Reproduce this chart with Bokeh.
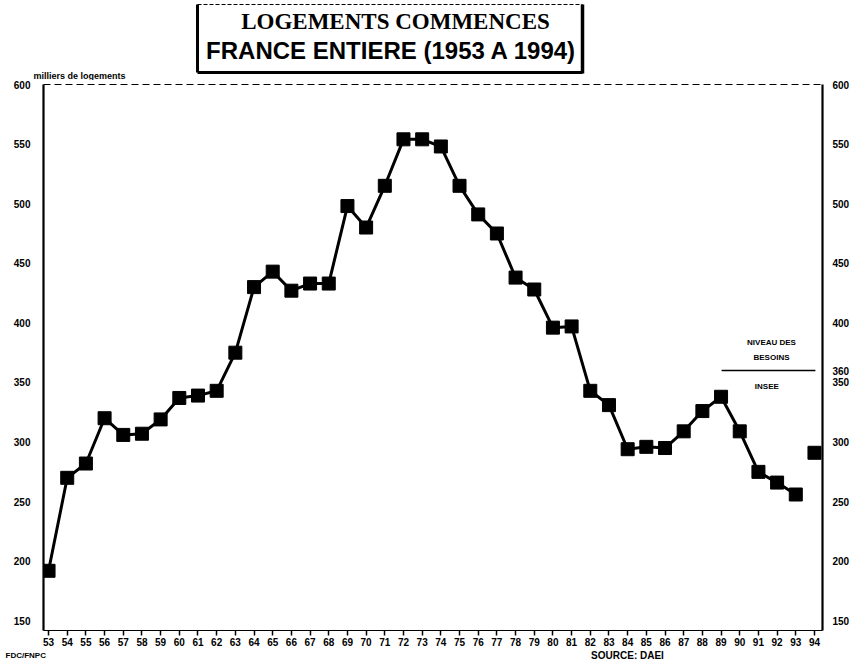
from bokeh.plotting import figure
from bokeh.layouts import column
from bokeh.models import Range1d, LinearAxis, FixedTicker
from bokeh.core.properties import value
from bokeh.embed import file_html
from bokeh.resources import INLINE

# ---- data (milliers de logements) ----
years = list(range(1953, 1995))
starts = [192, 270, 282, 320, 306, 307, 319, 337, 339, 343, 375,
          430, 443, 427, 433, 433, 498, 480, 515, 554, 554, 548,
          515, 491, 475, 438, 428, 396, 397, 343, 331, 294, 296,
          295, 309, 326, 338, 309, 275, 266, 256, 291]
y_ticks_left = [150, 200, 250, 300, 350, 400, 450, 500, 550, 600]
y_ticks_right = [150, 200, 250, 300, 350, 360, 400, 450, 500, 550, 600]
besoins = 360
title1 = "LOGEMENTS COMMENCES"
title2 = "FRANCE ENTIERE (1953 A 1994)"
unit_label = "milliers de logements"
besoins_label = ["NIVEAU DES", "BESOINS"]
besoins_src = "INSEE"
left_note = "FDC/FNPC"
source = "SOURCE: DAEI"

FONT = "Liberation Sans"
W = 852


def blank(height, y0, y1):
    f = figure(width=W, height=height, output_backend="svg",
               toolbar_location=None, x_range=Range1d(0, W),
               y_range=Range1d(y1, y0), min_border=0, frame_align=False,
               x_axis_location=None, y_axis_location=None)
    f.outline_line_color = None
    f.xgrid.visible = False
    f.ygrid.visible = False
    return f


# ---------------- title strip (page y 0..80) ----------------
ft = blank(80, 0, 80)
ft.line([197, 197], [4, 72], line_color="black", line_width=3)
ft.line([582, 582], [4, 73], line_color="black", line_width=3.5)
ft.line([197, 582], [72, 72], line_color="black", line_width=3)
ft.line([197, 582], [4, 4], line_color="black", line_width=1, line_dash="4 2")
ft.text(x=[395], y=[21], text=[title1], text_font=value("Liberation Serif"),
        text_font_size="23px", text_font_style="bold", text_align="center",
        text_baseline="middle", text_color="black")
ft.text(x=[391], y=[50], text=[title2], text_font=value(FONT),
        text_font_size="24px", text_font_style="bold", text_align="center",
        text_baseline="middle", text_color="black")
ft.text(x=[33], y=[75], text=[unit_label], text_font=value(FONT),
        text_font_size="9px", text_font_style="bold", text_align="left",
        text_baseline="middle", text_color="black")

# ---------------- main chart (page y 80..649) ----------------
p = figure(width=W, height=569, output_backend="svg", toolbar_location=None,
           x_range=Range1d(1952.73, 1994.43), y_range=Range1d(141.9, 600),
           min_border_left=43, min_border_right=W - 824, min_border_top=4,
           min_border_bottom=19, frame_align=False,
           x_axis_location=None, y_axis_location=None)
p.outline_line_color = None
p.xgrid.visible = False
p.ygrid.visible = False

xa = LinearAxis(ticker=FixedTicker(ticks=years))
xa.major_label_overrides = {y: "%02d" % (y % 100) for y in years}
xa.axis_line_color = "black"
xa.axis_line_width = 1
xa.major_tick_line_color = "black"
xa.major_tick_line_width = 1.5
xa.major_tick_in = 0
xa.major_tick_out = 5
xa.minor_tick_line_color = None
xa.major_label_standoff = 2
xa.major_label_text_font = FONT
xa.major_label_text_font_style = "bold"
xa.major_label_text_font_size = "10px"
xa.major_label_text_color = "black"
p.add_layout(xa, "below")


def style_y(ax):
    ax.axis_line_color = "black"
    ax.axis_line_width = 2.2
    ax.major_tick_line_color = None
    ax.major_tick_in = 0
    ax.major_tick_out = 0
    ax.minor_tick_line_color = None
    ax.minor_tick_in = 0
    ax.minor_tick_out = 0
    ax.major_label_text_font = FONT
    ax.major_label_text_font_style = "bold"
    ax.major_label_text_font_size = "10px"
    ax.major_label_text_color = "black"


ya = LinearAxis(ticker=FixedTicker(ticks=y_ticks_left))
style_y(ya)
ya.major_label_standoff = 13
p.add_layout(ya, "left")

yr = LinearAxis(ticker=FixedTicker(ticks=y_ticks_right))
style_y(yr)
yr.major_label_standoff = 10
p.add_layout(yr, "right")

top = LinearAxis(ticker=FixedTicker(ticks=[]), major_label_text_font_size="0px")
top.axis_line_color = "black"
top.axis_line_width = 1.2
top.axis_line_dash = "7 4"
top.major_tick_line_color = None
top.major_tick_out = 0
top.minor_tick_line_color = None
top.minor_tick_out = 0
p.add_layout(top, "above")

# series: 1953-1993 joined, 1994 shown apart
p.line(years[:-1], starts[:-1], line_color="black", line_width=3)
p.scatter(years, starts, marker="square", size=13, fill_color="black",
          line_color="black")

# niveau des besoins (INSEE)
p.line([1989.03, 1994.05], [besoins, besoins], line_color="black",
       line_width=1.5)
p.text(x=[1991.7, 1991.7], y=[besoins + 23.5, besoins + 11],
       text=besoins_label, text_font=value(FONT), text_font_size="8px",
       text_font_style="bold", text_align="center", text_baseline="middle",
       text_color="black")
p.text(x=[1991.45], y=[besoins - 13.5], text=[besoins_src],
       text_font=value(FONT), text_font_size="8px", text_font_style="bold",
       text_align="center", text_baseline="middle", text_color="black")

# ---------------- bottom strip (page y 649..661) ----------------
fb = blank(12, 649, 661)
fb.text(x=[5], y=[655], text=[left_note], text_font=value(FONT),
        text_font_size="8px", text_font_style="bold", text_align="left",
        text_baseline="middle", text_color="black")
fb.text(x=[627], y=[655], text=[source], text_font=value(FONT),
        text_font_size="10px", text_font_style="bold", text_align="center",
        text_baseline="middle", text_color="black")

layout = column(ft, p, fb, spacing=0)
open("out.html", "w").write(file_html(layout, INLINE))
